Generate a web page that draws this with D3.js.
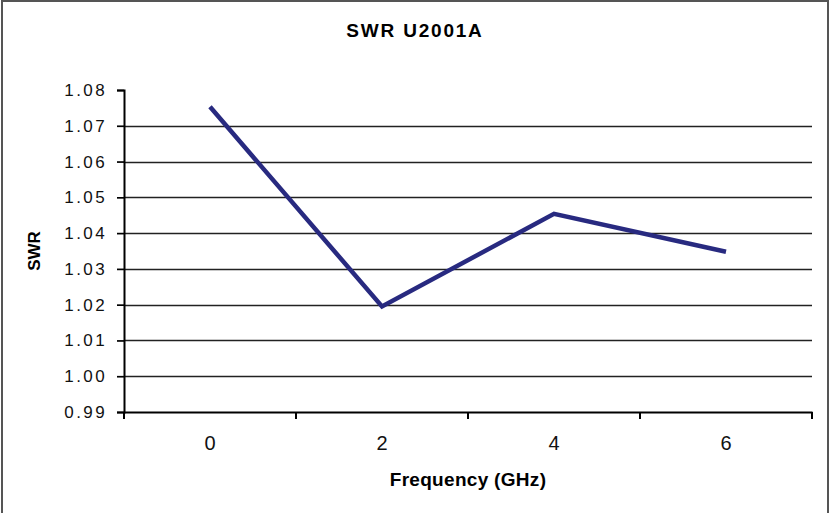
<!DOCTYPE html>
<html lang="en">
<head>
    <meta charset="UTF-8">
    <title>swr-u2001a</title>
    <style>
        body {
            margin: 0;
            background: #fff;
            font-family: "Liberation Sans", Arial, sans-serif;
        }
    </style>
    <script src="https://d3js.org/d3.v7.min.js"></script>
</head>
<body>

<script>

    // chart data
    let frequencies = ["0", "2", "4", "6"]
    let swrValues = [1.0753, 1.0195, 1.0454, 1.0348]
    let yTicks = [0.99, 1.00, 1.01, 1.02, 1.03, 1.04, 1.05, 1.06, 1.07, 1.08]

    let titleText = "SWR U2001A"
    let xTitle = "Frequency (GHz)"
    let yTitle = "SWR"

    let lineColor = "#282a80"
    let gridColor = "#222"
    let width = 830;
    let height = 513;
    let margin = {top: 90, right: 18, bottom: 101, left: 124};

    let svg = d3.select("body").append("svg")
        .attr("width", width)
        .attr("height", height)

    // outer frame
    svg.append("rect")
        .attr("x", 2)
        .attr("y", 1)
        .attr("width", 826)
        .attr("height", 530)
        .attr("fill", "none")
        .attr("stroke", "#555")
        .attr("stroke-width", 2)

    let x = d3.scaleBand()
        .domain(frequencies)
        .range([margin.left, width - margin.right])
        .padding(0)

    let y = d3.scaleLinear()
        .domain([0.99, 1.08])
        .range([height - margin.bottom, margin.top])

    // gridlines (not at the top value)
    svg.append("g")
        .selectAll("line")
        .data(yTicks.slice(1, -1))
        .enter()
        .append("line")
        .attr("x1", margin.left)
        .attr("x2", width - margin.right)
        .attr("y1", d => Math.round(y(d)) + 0.5)
        .attr("y2", d => Math.round(y(d)) + 0.5)
        .attr("stroke", gridColor)
        .attr("stroke-width", 1.7)

    // y axis
    let yAxis = svg.append("g")
        .attr("transform", "translate(" + margin.left + ",0)")
        .call(d3.axisLeft(y)
            .tickValues(yTicks)
            .tickFormat(d3.format(".2f"))
            .tickSize(7)
            .tickPadding(10))
    yAxis.select(".domain").attr("stroke", "#000").attr("stroke-width", 2)
    yAxis.selectAll(".tick line").attr("stroke", "#000").attr("stroke-width", 1.7)
    yAxis.selectAll("text")
        .attr("fill", "#111")
        .style("font-size", "17px")
        .style("letter-spacing", "2.4px")

    // x axis, labels at category centres
    let xAxis = svg.append("g")
        .attr("transform", "translate(0," + (height - margin.bottom) + ")")
        .call(d3.axisBottom(x).tickSize(0).tickPadding(24))
    xAxis.select(".domain").attr("stroke", "#000").attr("stroke-width", 2)
    xAxis.selectAll("text")
        .attr("fill", "#111")
        .style("font-size", "20px")

    // x ticks between categories
    let boundaries = frequencies.map(d => x(d)).concat([x(frequencies[frequencies.length - 1]) + x.step()])
    xAxis.selectAll(".bound")
        .data(boundaries)
        .enter()
        .append("line")
        .attr("class", "bound")
        .attr("x1", d => d)
        .attr("x2", d => d)
        .attr("y1", 0)
        .attr("y2", 7)
        .attr("stroke", "#000")
        .attr("stroke-width", 2)

    // series line
    let line = d3.line()
        .x((d, i) => x(frequencies[i]) + x.bandwidth() / 2)
        .y(d => y(d))

    svg.append("path")
        .datum(swrValues)
        .attr("d", line)
        .attr("fill", "none")
        .attr("stroke", lineColor)
        .attr("stroke-width", 4.5)
        .attr("stroke-linejoin", "miter")

    // titles
    svg.append("text")
        .attr("x", 415)
        .attr("y", 37)
        .attr("text-anchor", "middle")
        .style("font-weight", "bold")
        .style("font-size", "19px")
        .style("letter-spacing", "1.8px")
        .text(titleText)

    svg.append("text")
        .attr("x", (margin.left + width - margin.right) / 2)
        .attr("y", 486)
        .attr("text-anchor", "middle")
        .style("font-weight", "bold")
        .style("font-size", "19px")
        .style("letter-spacing", "0.3px")
        .text(xTitle)

    svg.append("text")
        .attr("transform", "translate(40," + ((margin.top + height - margin.bottom) / 2) + ") rotate(-90)")
        .attr("text-anchor", "middle")
        .style("font-weight", "bold")
        .style("font-size", "17px")
        .text(yTitle)

</script>

</body>
</html>
